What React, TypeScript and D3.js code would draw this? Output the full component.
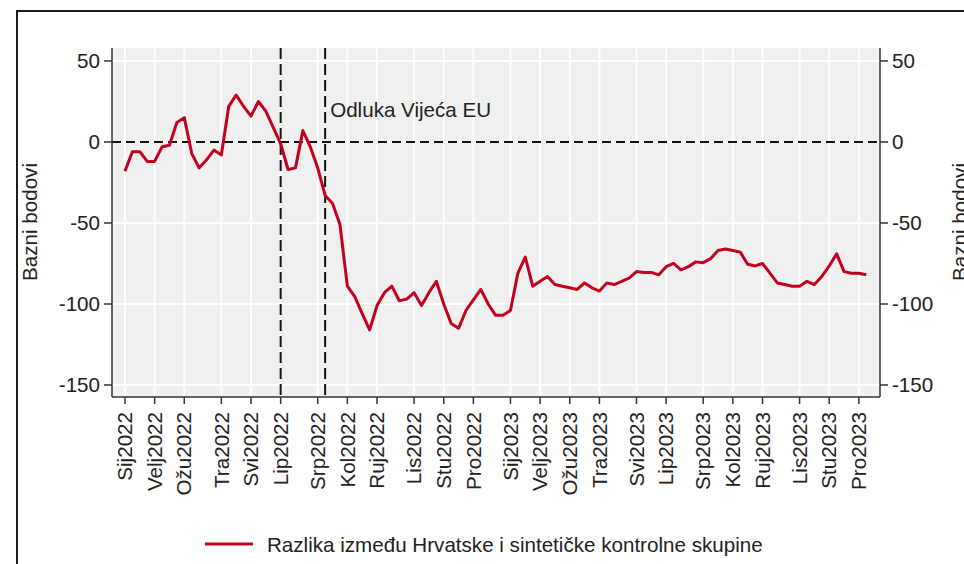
import React from "react";
import * as d3 from "d3";

// Weekly series: difference between Croatia and the synthetic control group (basis points)
const values: number[] = [
  -18, -6, -6, -12, -12, -3, -2, 12, 15, -7,
  -16, -11, -5, -8, 22, 29, 22, 16, 25, 19,
  9, -1, -17, -16, 7, -3, -16, -33, -38, -51,
  -89, -95.5, -106, -116, -101, -93, -89, -98, -97, -93,
  -101, -93, -86, -100, -112, -115, -104, -97.5, -91, -100,
  -107, -107, -104, -81, -71, -89, -86, -83, -88, -89,
  -90, -91, -87, -90, -92, -87, -88, -86, -84, -80,
  -80.5, -80.5, -82, -77, -75, -79, -77, -74, -74.5, -72,
  -67, -66, -67, -68, -75.5, -76.5, -75, -81, -87, -88,
  -89, -89, -86, -88, -83, -76.5, -69, -80, -81, -81,
  -82,
];

// x tick labels (month + year) and the week index they sit on
const tickLabels: string[] = [
  "Sij2022", "Velj2022", "Ožu2022", "Tra2022", "Svi2022", "Lip2022",
  "Srp2022", "Kol2022", "Ruj2022", "Lis2022", "Stu2022", "Pro2022",
  "Sij2023", "Velj2023", "Ožu2023", "Tra2023", "Svi2023", "Lip2023",
  "Srp2023", "Kol2023", "Ruj2023", "Lis2023", "Stu2023", "Pro2023",
];
const tickWeeks: number[] = [
  0, 4, 8, 13, 17, 21, 26, 30, 34, 39, 43, 47,
  52, 56, 60, 64, 69, 73, 78, 82, 86, 91, 95, 99,
];

const yTicks: number[] = [50, 0, -50, -100, -150];
const eventWeeks: number[] = [21, 27];
const eventLabel = "Odluka Vijeća EU";
const yTitle = "Bazni bodovi";
const legendLabel = "Razlika između Hrvatske i sintetičke kontrolne skupine";

const W = 964;
const H = 564;
const plot = { left: 112, right: 880, top: 48, bottom: 397 };
const FONT = "'Liberation Sans', Arial, sans-serif";
const FS = 20.6;
const TEXT = "#222";
const RED = "#c4001f";

export default function App() {
  const x = d3.scaleLinear().domain([-1.75, 101.85]).range([plot.left, plot.right]);
  const y = d3.scaleLinear().domain([-157.4, 58]).range([plot.bottom, plot.top]);

  const line = d3
    .line<number>()
    .x((_, i) => x(i))
    .y((d) => y(d));

  const path = line(values) || "";

  return (
    <div style={{ position: "absolute", left: 0, top: 0 }}>
      <svg width={W} height={H} style={{ display: "block", background: "#fff" }} fontFamily={FONT}>
        {/* outer frame */}
        <rect x={17} y={11} width={1000} height={600} fill="none" stroke="#1e1e1e" strokeWidth={2} />

        {/* plot region */}
        <rect
          x={plot.left}
          y={plot.top}
          width={plot.right - plot.left}
          height={plot.bottom - plot.top}
          fill="#f0f0f0"
        />
        {/* gridlines */}
        {tickWeeks.map((w, i) => (
          <line key={"gx" + i} x1={x(w)} x2={x(w)} y1={plot.top} y2={plot.bottom} stroke="#fff" strokeWidth={2} />
        ))}
        {yTicks.map((t) => (
          <line key={"gy" + t} x1={plot.left} x2={plot.right} y1={y(t)} y2={y(t)} stroke="#fff" strokeWidth={2} />
        ))}

        {/* zero line */}
        <line
          x1={plot.left}
          x2={plot.right}
          y1={y(0)}
          y2={y(0)}
          stroke="#111"
          strokeWidth={2}
          strokeDasharray="9 5"
        />
        {/* event lines */}
        {eventWeeks.map((w) => (
          <line
            key={"ev" + w}
            x1={x(w)}
            x2={x(w)}
            y1={plot.top}
            y2={plot.bottom}
            stroke="#111"
            strokeWidth={2}
            strokeDasharray="11 5"
          />
        ))}
        <text x={x(eventWeeks[1]) + 5} y={117} fontSize={FS} fill={TEXT}>
          {eventLabel}
        </text>

        {/* series */}
        <path d={path} fill="none" stroke={RED} strokeWidth={3} strokeLinejoin="round" />

        {/* axes */}
        <line x1={plot.left} x2={plot.left} y1={plot.top} y2={plot.bottom} stroke="#333" strokeWidth={1.5} />
        <line x1={plot.right} x2={plot.right} y1={plot.top} y2={plot.bottom} stroke="#333" strokeWidth={1.5} />
        <line x1={plot.left} x2={plot.right} y1={plot.bottom} y2={plot.bottom} stroke="#333" strokeWidth={1.5} />

        {yTicks.map((t) => (
          <g key={"yt" + t}>
            <line x1={plot.left - 8} x2={plot.left} y1={y(t)} y2={y(t)} stroke="#333" strokeWidth={1.5} />
            <text x={plot.left - 12} y={y(t)} dy="0.35em" textAnchor="end" fontSize={FS} fill={TEXT}>
              {t}
            </text>
            <line x1={plot.right} x2={plot.right + 8} y1={y(t)} y2={y(t)} stroke="#333" strokeWidth={1.5} />
            <text x={plot.right + 12} y={y(t)} dy="0.35em" textAnchor="start" fontSize={FS} fill={TEXT}>
              {t}
            </text>
          </g>
        ))}

        {tickWeeks.map((w, i) => (
          <g key={"xt" + i}>
            <line x1={x(w)} x2={x(w)} y1={plot.bottom} y2={plot.bottom + 7} stroke="#333" strokeWidth={1.5} />
            <text
              transform={`translate(${x(w)},${plot.bottom + 15}) rotate(-90)`}
              dy="0.35em"
              textAnchor="end"
              fontSize={FS}
              fill={TEXT}
            >
              {tickLabels[i]}
            </text>
          </g>
        ))}

        {/* axis titles */}
        <text transform={`translate(37,222) rotate(-90)`} textAnchor="middle" fontSize={FS} fill={TEXT}>
          {yTitle}
        </text>
        <text transform={`translate(967,222) rotate(-90)`} textAnchor="middle" fontSize={FS} fill={TEXT}>
          {yTitle}
        </text>

        {/* legend */}
        <line x1={205} x2={253} y1={544} y2={544} stroke={RED} strokeWidth={3} />
        <text x={267} y={552} fontSize={FS} fill={TEXT}>
          {legendLabel}
        </text>
      </svg>
    </div>
  );
}
